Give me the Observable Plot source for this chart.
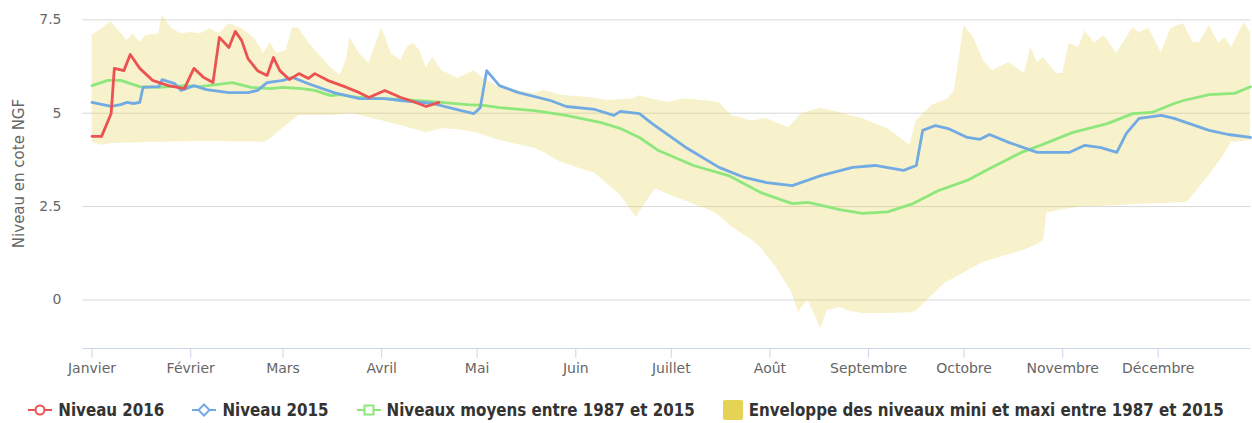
<!DOCTYPE html>
<html>
<head>
<meta charset="utf-8">
<script src="https://cdn.jsdelivr.net/npm/d3@7"></script>
<script src="https://cdn.jsdelivr.net/npm/@observablehq/plot@0.6"></script>
<style>
  body { margin: 0; background: #fff; }
  #wrap { position: relative; width: 1252px; height: 423px; }
  #legend {
    position: absolute; top: 398px; left: 0; width: 1252px; height: 24px;
    display: flex; justify-content: center; align-items: center; gap: 28px;
    font-family: "DejaVu Sans Condensed", "DejaVu Sans", sans-serif; font-stretch: condensed;
    font-weight: bold; font-size: 16.8px; color: #333;
  }
  .item { display: flex; align-items: center; white-space: nowrap; }
  .item svg { margin-right: 6px; }
</style>
</head>
<body>
<div id="wrap">
  <div id="chart"></div>
  <div id="legend"></div>
</div>
<script>
// ---- Data (day of year 2016, 0 = 1 January) ----
const months = ["Janvier","Février","Mars","Avril","Mai","Juin","Juillet","Août","Septembre","Octobre","Novembre","Décembre"];
const monthStartDays = [0,31,60,91,121,152,182,213,244,274,305,335];
const yTicks = [0, 2.5, 5, 7.5];

const days2016 = [0,3,6,7,10,12,15,19,24,29,32,35,38,40,43,45,47,49,52,55,57,59,62,65,68,70,74,80,84,87,92,97,100,105,109];
const niveau2016 = [4.38,4.38,4.99,6.20,6.14,6.57,6.20,5.88,5.74,5.66,6.20,5.96,5.82,7.03,6.76,7.19,6.95,6.46,6.14,6.01,6.49,6.14,5.90,6.06,5.93,6.06,5.88,5.69,5.55,5.42,5.61,5.42,5.34,5.18,5.29];

const days2015 = [0,6,9,11,13,15,16,21,22,26,
  28,32,36,43,49,52,55,60,63,68,
  76,84,92,97,107,116,120,122,124,128,
  134,144,149,158,164,166,172,176,187,197,
  205,212,220,229,239,246,255,259,261,265,
  269,275,279,282,288,297,307,312,317,322,
  325,329,336,340,351,357,364];
const niveau2015 = [5.29,5.18,5.23,5.29,5.26,5.29,5.69,5.71,5.90,5.79,
  5.61,5.74,5.63,5.55,5.55,5.61,5.82,5.88,5.96,5.79,
  5.55,5.39,5.39,5.34,5.26,5.07,4.99,5.15,6.14,5.74,
  5.55,5.34,5.18,5.10,4.94,5.05,4.99,4.72,4.06,3.55,
  3.28,3.14,3.06,3.33,3.55,3.60,3.47,3.60,4.54,4.67,
  4.59,4.35,4.30,4.43,4.22,3.95,3.95,4.14,4.08,3.95,
  4.46,4.86,4.94,4.86,4.54,4.43,4.35];

const daysMoyen = [0,5,9,15,21,29,34,44,50,56,
  60,66,70,75,78,84,91,97,107,118,
  123,128,139,149,160,166,172,178,189,200,
  210,220,225,235,242,250,258,266,275,281,
  292,298,308,319,327,333,340,343,351,359,
  364];
const niveauMoyen = [5.74,5.88,5.88,5.71,5.69,5.74,5.71,5.82,5.69,5.66,
  5.69,5.66,5.61,5.47,5.50,5.42,5.39,5.37,5.31,5.23,
  5.21,5.15,5.07,4.94,4.75,4.59,4.35,4.00,3.60,3.33,
  2.88,2.58,2.61,2.42,2.32,2.36,2.58,2.93,3.20,3.47,
  3.95,4.14,4.48,4.72,4.99,5.02,5.26,5.34,5.50,5.53,
  5.71];

const bandDays = [0,3,6,11,13,15,17,21,22,25,
  28,31,34,37,40,43,47,51,54,56,
  58,61,63,65,68,71,75,78,80,81,
  84,87,91,94,97,99,101,103,105,107,
  110,115,120,123,128,139,142,147,149,156,
  158,162,166,170,171,172,177,181,184,186,
  194,197,201,204,207,210,212,215,219,220,
  222,223,225,229,231,235,238,242,245,248,
  250,257,259,263,264,268,269,271,272,274,
  277,280,283,288,293,295,297,299,300,303,
  305,307,310,312,315,318,322,327,329,332,
  336,339,343,344,346,348,349,351,354,356,
  358,362,364];
const bandMin = [4.22,4.14,4.19,4.20,4.20,4.21,4.22,4.22,4.22,4.23,
  4.23,4.24,4.24,4.24,4.24,4.23,4.23,4.23,4.22,4.30,
  4.46,4.67,4.81,4.94,4.94,4.94,4.94,4.96,4.98,4.99,
  4.94,4.88,4.80,4.73,4.67,4.62,4.57,4.53,4.48,4.52,
  4.59,4.56,4.49,4.41,4.27,4.06,3.95,3.70,3.64,3.44,
  3.39,3.10,2.80,2.33,2.21,2.34,2.98,2.83,2.72,2.66,
  2.40,2.26,1.96,1.78,1.63,1.41,1.19,0.87,0.31,0.17,
  -0.34,-0.20,-0.01,-0.77,-0.28,-0.20,-0.30,-0.36,-0.36,-0.36,
  -0.36,-0.34,-0.30,0.04,0.12,0.44,0.49,0.59,0.63,0.73,
  0.87,1.00,1.08,1.21,1.34,1.41,1.48,1.59,2.32,2.38,
  2.42,2.44,2.48,2.49,2.50,2.51,2.53,2.55,2.56,2.57,
  2.58,2.59,2.61,2.61,2.81,3.01,3.12,3.34,3.68,3.93,
  4.22,4.25,4.27];
const bandMax = [7.08,7.26,7.45,6.95,7.13,6.89,7.08,7.13,7.62,7.27,
  7.13,7.16,7.13,7.27,7.13,7.40,7.27,7.00,6.60,6.89,
  6.60,6.68,7.29,7.27,6.89,6.60,6.22,6.01,6.46,7.03,
  6.60,6.33,7.29,6.60,6.41,6.76,6.87,6.68,6.22,6.49,
  6.14,5.93,6.14,5.93,5.69,5.53,5.61,5.49,5.47,5.42,
  5.40,5.34,5.36,5.39,5.43,5.47,5.36,5.29,5.35,5.39,
  5.32,5.29,4.94,4.87,4.80,4.83,4.86,4.74,4.62,4.71,
  4.90,4.99,5.04,5.13,5.09,5.01,4.94,4.86,4.75,4.65,
  4.59,4.14,4.80,5.13,5.21,5.35,5.39,5.61,6.22,7.35,
  7.03,6.41,6.14,6.36,6.06,6.76,6.36,6.49,6.38,6.06,
  6.06,6.87,6.76,7.21,6.87,7.08,6.60,7.29,7.16,7.27,
  6.62,7.27,7.40,7.23,6.89,6.89,7.04,7.35,6.87,7.03,
  6.76,7.43,7.16];

// ---- Styles ----
const colors = { n2016: "#ec5252", n2015: "#72aae3", moyen: "#8ee77c", band: "#e4d354" };
const yDomain = [-1.3, 7.75];
const xDomain = [-3, 364];

const series = (days, vals) => days.map((d, i) => ({ day: d, value: vals[i] }));
const band = bandDays.map((d, i) => ({ day: d, min: bandMin[i], max: bandMax[i] }));

const chart = Plot.plot({
  width: 1252, height: 390,
  marginLeft: 82, marginRight: 2, marginTop: 10, marginBottom: 42,
  x: { domain: xDomain },
  y: { domain: yDomain },
  style: { fontFamily: "DejaVu Sans, sans-serif", fontSize: "14px", color: "#666", background: "#fff" },
  marks: [
    Plot.gridY(yTicks, { stroke: "#d8d8d8", strokeOpacity: 1 }),
    Plot.areaY(band, { x: "day", y1: "min", y2: "max", fill: colors.band, fillOpacity: 0.3 }),
    Plot.lineY(series(daysMoyen, niveauMoyen), { x: "day", y: "value", stroke: colors.moyen, strokeWidth: 2.8 }),
    Plot.lineY(series(days2015, niveau2015), { x: "day", y: "value", stroke: colors.n2015, strokeWidth: 2.8 }),
    Plot.lineY(series(days2016, niveau2016), { x: "day", y: "value", stroke: colors.n2016, strokeWidth: 2.8 }),
    Plot.ruleY([yDomain[0]], { stroke: "#ccd6eb" }),
    Plot.axisX({ ticks: monthStartDays, tickFormat: d => months[monthStartDays.indexOf(d)], tickSize: 10, tickPadding: 5, stroke: "#ccd6eb", fill: "#666", label: null }),
    Plot.axisY({ ticks: yTicks, tickFormat: d => String(d), tickSize: 0, tickPadding: 21, fill: "#666", label: null }),
    Plot.text(["Niveau en cote NGF"], { frameAnchor: "left", textAnchor: "middle", dx: -63, dy: -6, rotate: -90, fill: "#666", fontSize: 15 })
  ]
});
document.getElementById("chart").appendChild(chart);

// ---- Legend ----
const legendItems = [
  { label: "Niveau 2016", color: colors.n2016, marker: "circle" },
  { label: "Niveau 2015", color: colors.n2015, marker: "diamond" },
  { label: "Niveaux moyens entre 1987 et 2015", color: colors.moyen, marker: "square" },
  { label: "Enveloppe des niveaux mini et maxi entre 1987 et 2015", color: colors.band, marker: "area" }
];
const legend = document.getElementById("legend");
for (const it of legendItems) {
  const el = document.createElement("span");
  el.className = "item";
  let sym;
  if (it.marker === "area") {
    sym = `<svg width="20" height="20"><rect x="0" y="0" width="20" height="20" rx="2" fill="${it.color}"/></svg>`;
  } else {
    let m;
    if (it.marker === "circle") m = `<circle cx="12" cy="10" r="4.5" fill="#fff" stroke="${it.color}" stroke-width="2"/>`;
    else if (it.marker === "diamond") m = `<path d="M12 4.5 L17.5 10 L12 15.5 L6.5 10 Z" fill="#fff" stroke="${it.color}" stroke-width="2"/>`;
    else m = `<rect x="7.5" y="5.5" width="9" height="9" fill="#fff" stroke="${it.color}" stroke-width="2"/>`;
    sym = `<svg width="24" height="20"><line x1="0" y1="10" x2="24" y2="10" stroke="${it.color}" stroke-width="2"/>${m}</svg>`;
  }
  el.innerHTML = sym + `<span>${it.label}</span>`;
  legend.appendChild(el);
}
</script>
</body>
</html>
